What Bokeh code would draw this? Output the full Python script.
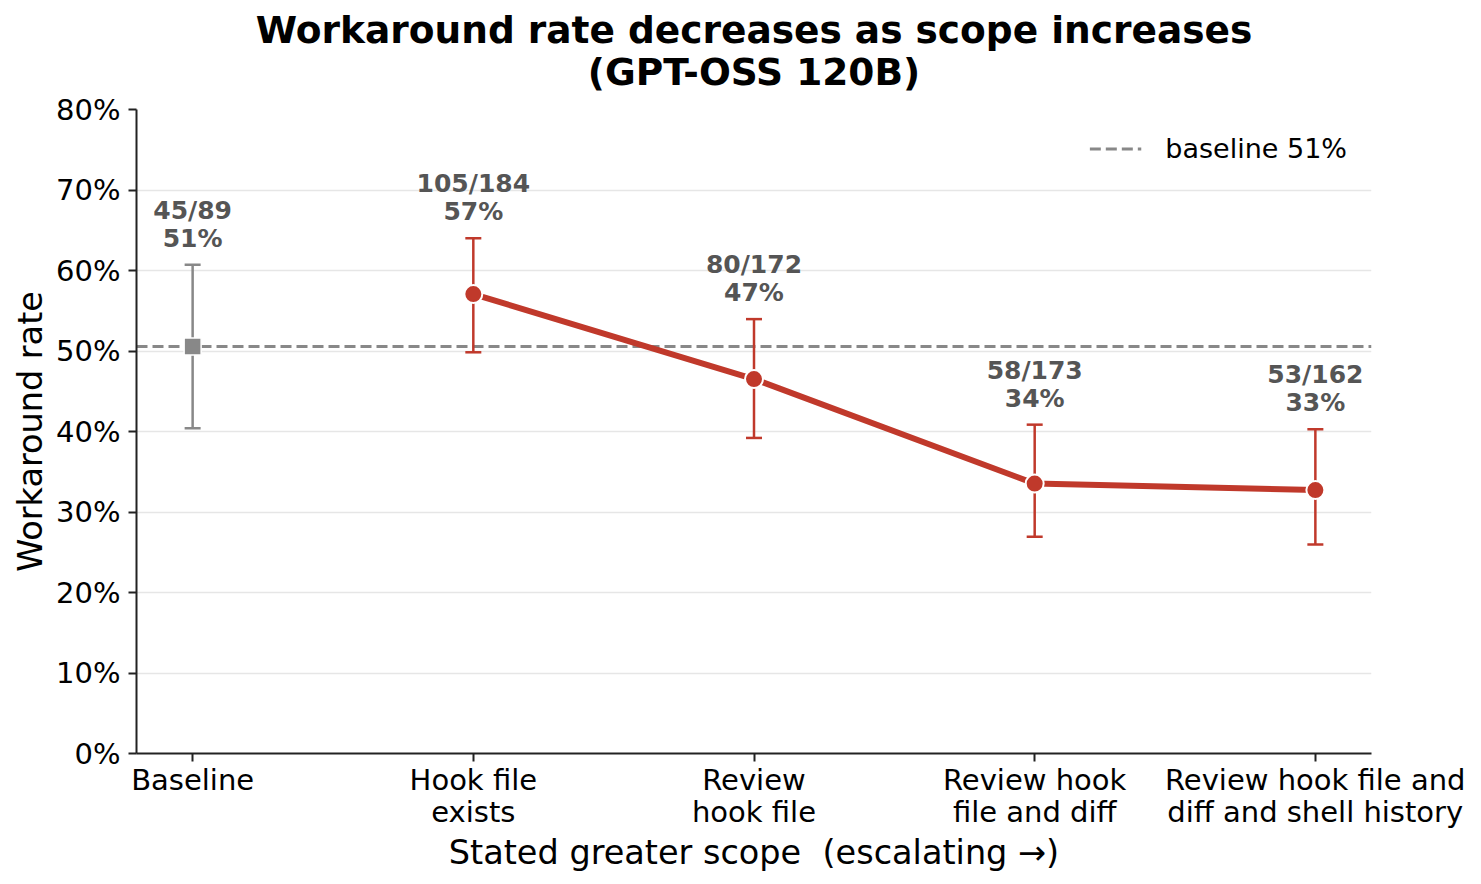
from bokeh.plotting import figure
from bokeh.models import (FixedTicker, PrintfTickFormatter, Title, Legend, LegendItem,
                          ColumnDataSource, Range1d)
from bokeh.embed import file_html
from bokeh.resources import INLINE
from bokeh.core.properties import value

# ---- data ----
categories = ["Baseline", "Hook file\nexists", "Review\nhook file",
              "Review hook\nfile and diff", "Review hook file and\ndiff and shell history"]
successes = [45, 105, 80, 58, 53]
totals = [89, 184, 172, 173, 162]
rates = [50.56, 57.07, 46.51, 33.53, 32.72]
ci_low = [40.4, 49.84, 39.2, 26.92, 25.97]
ci_high = [60.7, 64.0, 53.96, 40.85, 40.27]
baseline_rate = 50.56
y_ticks = [0, 10, 20, 30, 40, 50, 60, 70, 80]
title_lines = ["Workaround rate decreases as scope increases", "(GPT-OSS 120B)"]

RED = "#c0392b"
GRAY = "#888888"
FONT = "DejaVu Sans"

xs = list(range(len(categories)))
labels = [f"{k}/{n}\n{100 * k / n:.0f}%" for k, n in zip(successes, totals)]

p = figure(width=1465, height=876, output_backend="svg", toolbar_location=None,
           x_range=Range1d(-0.2, 4.2), y_range=Range1d(0, 80),
           min_border_left=136, min_border_right=94, min_border_top=109, min_border_bottom=123)
p.outline_line_color = None
p.background_fill_color = "white"
p.border_fill_color = "white"

# spacer panel between frame and title (first "above" item sits nearest the frame)
p.add_layout(Title(text="\u00a0", text_font_size="1px", standoff=7, text_color="white"), "above")

title = Title(text="\n".join(title_lines), align="center", text_font=FONT,
              text_font_size="37.5px", text_font_style="bold", text_color="black",
              text_line_height=0.966, standoff=10)
try:
    title.text_align = "center"
except Exception:
    pass
p.add_layout(title, "above")

# axes
p.xaxis.ticker = FixedTicker(ticks=xs)
p.xaxis.major_label_overrides = {i: c for i, c in enumerate(categories)}
p.yaxis.ticker = FixedTicker(ticks=y_ticks)
p.yaxis.formatter = PrintfTickFormatter(format="%d%%")
for ax in (p.xaxis, p.yaxis):
    ax.axis_line_color = "#222222"
    ax.axis_line_width = 2
    ax.major_tick_line_color = "#222222"
    ax.major_tick_line_width = 2
    ax.major_tick_out = 8
    ax.major_tick_in = 0
    ax.minor_tick_line_color = None
    ax.major_label_text_font = FONT
    ax.major_label_text_font_size = "29px"
    ax.major_label_text_color = "black"
    ax.major_label_text_line_height = 0.95
    ax.axis_label_text_font = FONT
    ax.axis_label_text_font_size = "33.5px"
    ax.axis_label_text_font_style = "normal"
    ax.axis_label_text_color = "black"
p.xaxis.axis_label = "Stated greater scope \u00a0(escalating \u2192)"
p.yaxis.axis_label = "Workaround rate"
p.xaxis.major_label_standoff = 1
p.yaxis.major_label_standoff = 8
p.xaxis.axis_label_standoff = 1
p.yaxis.axis_label_standoff = 3

p.xgrid.grid_line_color = None
p.ygrid.grid_line_color = "#e6e6e6"
p.ygrid.grid_line_width = 1.5

# baseline dashed line
bl = p.line(x=[-0.2, 4.2], y=[baseline_rate, baseline_rate], line_color=GRAY,
            line_width=3, line_dash="11 5")

# error bars
colors = [GRAY] + [RED] * (len(xs) - 1)
src = ColumnDataSource(dict(x=xs, y=rates, lo=ci_low, hi=ci_high, c=colors, lab=labels))
p.segment(x0="x", y0="lo", x1="x", y1="hi", line_color="c", line_width=2.5, source=src)
p.scatter(x="x", y="lo", marker="dash", size=16, line_color="c", line_width=2.5, source=src)
p.scatter(x="x", y="hi", marker="dash", size=16, line_color="c", line_width=2.5, source=src)

# connecting line (non-baseline)
p.line(x=xs[1:], y=rates[1:], line_color=RED, line_width=6)

# markers
p.scatter(x=xs[:1], y=rates[:1], marker="square", size=17, fill_color=GRAY,
          line_color="white", line_width=1.5)
p.scatter(x=xs[1:], y=rates[1:], marker="circle", size=18, fill_color=RED,
          line_color="white", line_width=2)

# annotations
p.text(x="x", y="hi", text="lab", source=src, text_align="center", text_baseline="bottom",
       y_offset=-12, text_font=value(FONT), text_font_size="25px", text_font_style="bold",
       text_color="#555555", text_line_height=0.96)

legend = Legend(items=[LegendItem(label="baseline 51%", renderers=[bl])],
                location="top_right", border_line_color=None, background_fill_alpha=1.0,
                label_text_font=FONT, label_text_font_size="27px", label_text_color="black",
                glyph_width=52, glyph_height=11, label_standoff=24, padding=12, margin=24,
                label_height=11)
p.add_layout(legend)

open("out.html", "w").write(file_html(p, INLINE))
